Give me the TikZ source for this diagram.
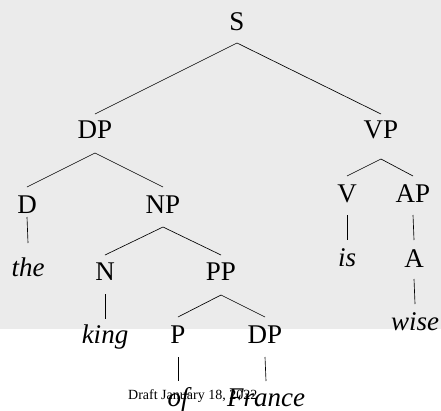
\documentclass[tikz,border=0pt]{standalone}
\usepackage{fontspec}
\setmainfont{Liberation Serif}
\definecolor{bggray}{HTML}{EBEBEB}
\begin{document}
\begin{tikzpicture}[x=1pt,y=-1pt,
  lbl/.style={anchor=base, inner sep=0pt, font=\fontsize{27}{30}\selectfont},
  word/.style={lbl, font=\fontsize{27}{30}\selectfont\itshape},
  edge/.style={line width=0.65pt},
  draftmark/.style={anchor=base west, inner sep=0pt, font=\fontsize{14}{16}\selectfont}]
\useasboundingbox (0,0) rectangle (441,410);
\fill[bggray] (0,0) rectangle (441,329);
% nodes
\node[lbl] (S) at (237,30) {S};
\node[lbl] (DP1) at (95,138) {DP};
\node[lbl] (VP) at (381,138) {VP};
\node[lbl] (D) at (27,213) {D};
\node[lbl] (NP) at (163,213) {NP};
\node[word] (the) at (28,276) {the};
\node[lbl] (N) at (105,280) {N};
\node[lbl] (PP) at (221,280) {PP};
\node[word] (king) at (105,343) {king};
\node[lbl] (P) at (178,343) {P};
\node[lbl] (DP2) at (265,343) {DP};
\node[draftmark] (draft) at (128,399) {Draft January 18, 2022};
\node[word] (of) at (178,406) {of};
\node[word] (France) at (266,406) {France};
\node[lbl] (V) at (347,202) {V};
\node[lbl] (AP) at (413,202) {AP};
\node[word] (is) at (347,266) {is};
\node[lbl] (A) at (414,267) {A};
\node[word] (wise) at (415,330) {wise};
% edges
\draw[edge] ([yshift=-13pt]S.base) -- ([yshift=24pt]DP1.base);
\draw[edge] ([yshift=-13pt]S.base) -- ([yshift=24pt]VP.base);
\draw[edge] ([yshift=-15pt]DP1.base) -- ([yshift=26pt]D.base);
\draw[edge] ([yshift=-15pt]DP1.base) -- ([yshift=26pt]NP.base);
\draw[edge] ([yshift=-4pt]D.base) -- ([yshift=33pt]the.base);
\draw[edge] ([yshift=-14pt]NP.base) -- ([yshift=25pt]N.base);
\draw[edge] ([yshift=-14pt]NP.base) -- ([yshift=25pt]PP.base);
\draw[edge] ([yshift=-14pt]N.base) -- ([yshift=24pt]king.base);
\draw[edge] ([yshift=-15pt]PP.base) -- ([yshift=26pt]P.base);
\draw[edge] ([yshift=-15pt]PP.base) -- ([yshift=26pt]DP2.base);
\draw[edge] ([yshift=-14pt]P.base) -- ([yshift=25pt]of.base);
\draw[edge] ([yshift=-14pt]DP2.base) -- ([yshift=25pt]France.base);
\draw[edge] ([yshift=-21pt]VP.base) -- ([yshift=26pt]V.base);
\draw[edge] ([yshift=-21pt]VP.base) -- ([yshift=26pt]AP.base);
\draw[edge] ([yshift=-13pt]V.base) -- ([yshift=26pt]is.base);
\draw[edge] ([yshift=-13pt]AP.base) -- ([yshift=27pt]A.base);
\draw[edge] ([yshift=-12pt]A.base) -- ([yshift=26pt]wise.base);
\end{tikzpicture}
\end{document}
